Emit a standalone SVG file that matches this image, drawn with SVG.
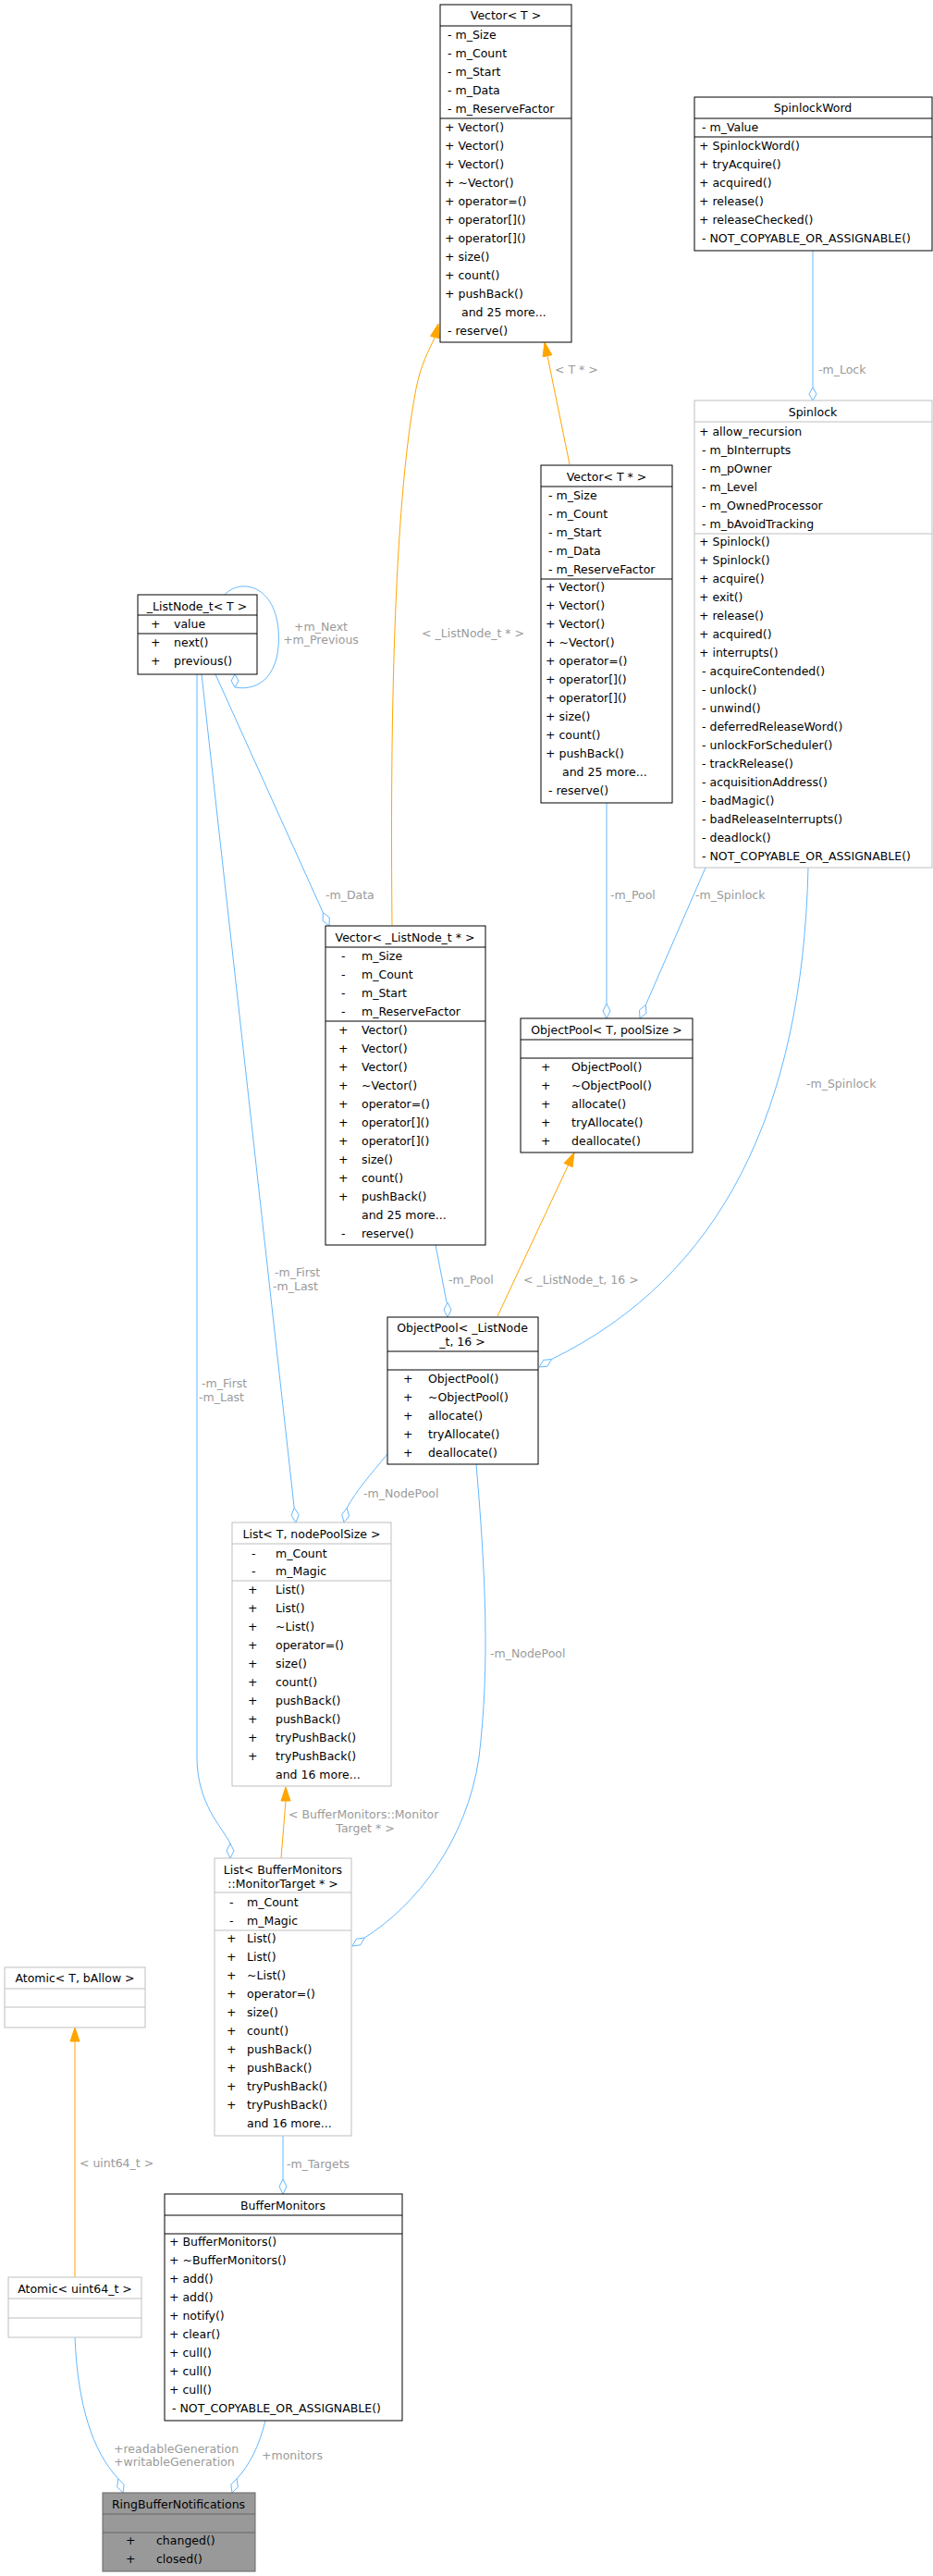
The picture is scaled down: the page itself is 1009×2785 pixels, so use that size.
<svg xmlns="http://www.w3.org/2000/svg" width="1009" height="2785" viewBox="0 0 1009 2785">
<style>
text{font-family:"DejaVu Sans","Liberation Sans",sans-serif;font-size:12.5px;fill:#000}
.t{text-anchor:middle}
.l{fill:#9a9a9a}
.lm{fill:#9a9a9a;text-anchor:middle}
.b{fill:#fff;stroke:#000;stroke-width:1}
.g{fill:#fff;stroke:#bfbfbf;stroke-width:1}
.s{stroke:#000;stroke-width:1}
.sg{stroke:#bfbfbf;stroke-width:1}
.e{fill:none;stroke:#63b8ff;stroke-width:1}
.d{fill:#fff;stroke:#63b8ff;stroke-width:1}
.o{fill:none;stroke:#ffa500;stroke-width:1}
.oh{fill:#ffa500;stroke:#ffa500}
</style>
<rect width="1009" height="2785" fill="#fff"/>
<g id="edges">
<path class="e" d="M879,271 L879,419"/><polygon class="d" points="879,433 883,426 879,419 875,426"/>
<path class="e" d="M243,643 C258,626 296,630 301,680 C305,730 280,748 254,743"/><polygon class="d" points="254,729 258,736 254,743 250,736"/>
<path class="e" d="M233,729 L349.3,986.5"/><polygon class="d" points="356,1001 349.1,995.4 349.3,986.5 356.3,992"/>
<path class="e" d="M218,729 L318.2,1630.1"/><polygon class="d" points="320,1646 315.1,1638.4 318.2,1630.1 323.1,1637.6"/>
<path class="e" d="M213,729 L213,1900 C213,1950 240,1975 249,1993"/><polygon class="d" points="249,2009 253,2001 249,1993 245,2001"/>
<path class="e" d="M656,868 L656,1085"/><polygon class="d" points="656,1101 660,1093 656,1085 652,1093"/>
<path class="e" d="M763,938 L698.4,1086.3"/><polygon class="d" points="692,1101 691.5,1092.1 698.4,1086.3 698.9,1095.3"/>
<path class="e" d="M874,938 C868,1200 780,1380 596.6,1469.5"/><polygon class="d" points="583,1478 587.7,1470.4 596.6,1469.5 591.9,1477.2"/>
<path class="e" d="M471,1346 L483,1408"/><polygon class="d" points="484,1424 488,1416 484,1408 480,1416"/>
<path class="e" d="M419,1572 C400,1595 385,1612 375.2,1630.3"/><polygon class="d" points="372,1646 369.7,1637.4 375.2,1630.3 377.5,1639"/>
<path class="e" d="M515,1583 C525,1700 530,1800 518,1900 C505,1990 450,2060 394.3,2095"/><polygon class="d" points="381,2104 385.4,2096.2 394.3,2095 389.8,2102.8"/>
<path class="e" d="M306,2309 L306,2356"/><polygon class="d" points="306,2372 310,2364 306,2356 302,2364"/>
<path class="e" d="M81,2527 C84,2600 100,2650 127.9,2679.8"/><polygon class="d" points="133,2695 126.6,2688.7 127.9,2679.8 134.2,2686.1"/>
<path class="e" d="M287,2617 C280,2645 270,2665 256.1,2679.8"/><polygon class="d" points="251,2695 249.8,2686.1 256.1,2679.8 257.4,2688.7"/>
<path class="o" d="M616,502 L592,384.7"/><polygon class="oh" points="589,370 596.9,383.7 587.1,385.7"/>
<path class="o" d="M424,1000 C422,800 425,550 450,420 C455,395 463,380 470.4,364.6"/><polygon class="oh" points="474,350 475.3,365.8 465.6,363.4"/>
<path class="o" d="M538,1423 L614.6,1259.6"/><polygon class="oh" points="621,1246 619.1,1261.7 610.1,1257.5"/>
<path class="o" d="M304,2009 L309,1947"/><polygon class="oh" points="309,1932 304,1947 314,1947"/>
<path class="o" d="M81,2462 L81,2207"/><polygon class="oh" points="81,2192 76,2207 86,2207"/>
<text class="l" x="885" y="404">-m_Lock</text>
<text class="l" x="600" y="404">&lt; T * &gt;</text>
<text class="l" x="456" y="689">&lt; _ListNode_t * &gt;</text>
<text class="lm" x="347" y="682">+m_Next</text>
<text class="lm" x="347" y="696">+m_Previous</text>
<text class="l" x="352" y="972">-m_Data</text>
<text class="l" x="660" y="972">-m_Pool</text>
<text class="l" x="752" y="972">-m_Spinlock</text>
<text class="l" x="872" y="1176">-m_Spinlock</text>
<text class="l" x="297" y="1380">-m_First</text>
<text class="l" x="295" y="1395">-m_Last</text>
<text class="l" x="485" y="1388">-m_Pool</text>
<text class="l" x="566" y="1388">&lt; _ListNode_t, 16 &gt;</text>
<text class="l" x="218" y="1500">-m_First</text>
<text class="l" x="215" y="1515">-m_Last</text>
<text class="l" x="393" y="1619">-m_NodePool</text>
<text class="l" x="530" y="1792">-m_NodePool</text>
<text class="l" x="312" y="1966">&lt; BufferMonitors::Monitor</text>
<text class="lm" x="395" y="1981">Target * &gt;</text>
<text class="l" x="86" y="2343">&lt; uint64_t &gt;</text>
<text class="l" x="310" y="2344">-m_Targets</text>
<text class="l" x="123" y="2652">+readableGeneration</text>
<text class="l" x="123" y="2666">+writableGeneration</text>
<text class="l" x="283" y="2659">+monitors</text>
</g>
<g id="VectorT">
<rect class="b" x="476" y="5" width="142" height="365"/>
<line class="s" x1="476" y1="28" x2="618" y2="28"/><line class="s" x1="476" y1="128" x2="618" y2="128"/>
<text class="t" x="547" y="21">Vector&lt; T &gt;</text>
<text x="484" y="42">-  m_Size</text><text x="484" y="62">-  m_Count</text><text x="484" y="82">-  m_Start</text><text x="484" y="102">-  m_Data</text><text x="484" y="122">-  m_ReserveFactor</text>
<text x="481" y="142">+ Vector()</text><text x="481" y="162">+ Vector()</text><text x="481" y="182">+ Vector()</text><text x="481" y="202">+ ~Vector()</text><text x="481" y="222">+ operator=()</text><text x="481" y="242">+ operator[]()</text><text x="481" y="262">+ operator[]()</text><text x="481" y="282">+ size()</text><text x="481" y="302">+ count()</text><text x="481" y="322">+ pushBack()</text><text x="499" y="342">and 25 more...</text><text x="484" y="362">-  reserve()</text>
</g>
<g id="SpinlockWord">
<rect class="b" x="751" y="105" width="257" height="166"/>
<line class="s" x1="751" y1="128" x2="1008" y2="128"/><line class="s" x1="751" y1="148" x2="1008" y2="148"/>
<text class="t" x="879" y="121">SpinlockWord</text>
<text x="759" y="142">-  m_Value</text>
<text x="756" y="162">+ SpinlockWord()</text><text x="756" y="182">+ tryAcquire()</text><text x="756" y="202">+ acquired()</text><text x="756" y="222">+ release()</text><text x="756" y="242">+ releaseChecked()</text><text x="759" y="262">-  NOT_COPYABLE_OR_ASSIGNABLE()</text>
</g>
<g id="Spinlock">
<rect class="g" x="751" y="433" width="257" height="505"/>
<line class="sg" x1="751" y1="456" x2="1008" y2="456"/><line class="sg" x1="751" y1="577" x2="1008" y2="577"/>
<text class="t" x="879" y="450">Spinlock</text>
<text x="756" y="471">+ allow_recursion</text><text x="759" y="491">-  m_bInterrupts</text><text x="759" y="511">-  m_pOwner</text><text x="759" y="531">-  m_Level</text><text x="759" y="551">-  m_OwnedProcessor</text><text x="759" y="571">-  m_bAvoidTracking</text>
<text x="756" y="590">+ Spinlock()</text><text x="756" y="610">+ Spinlock()</text><text x="756" y="630">+ acquire()</text><text x="756" y="650">+ exit()</text><text x="756" y="670">+ release()</text><text x="756" y="690">+ acquired()</text><text x="756" y="710">+ interrupts()</text>
<text x="759" y="730">-  acquireContended()</text><text x="759" y="750">-  unlock()</text><text x="759" y="770">-  unwind()</text><text x="759" y="790">-  deferredReleaseWord()</text><text x="759" y="810">-  unlockForScheduler()</text><text x="759" y="830">-  trackRelease()</text><text x="759" y="850">-  acquisitionAddress()</text><text x="759" y="870">-  badMagic()</text><text x="759" y="890">-  badReleaseInterrupts()</text><text x="759" y="910">-  deadlock()</text><text x="759" y="930">-  NOT_COPYABLE_OR_ASSIGNABLE()</text>
</g>
<g id="VectorTp">
<rect class="b" x="585" y="503" width="142" height="365"/>
<line class="s" x1="585" y1="526" x2="727" y2="526"/><line class="s" x1="585" y1="626" x2="727" y2="626"/>
<text class="t" x="656" y="520">Vector&lt; T * &gt;</text>
<text x="593" y="540">-  m_Size</text><text x="593" y="560">-  m_Count</text><text x="593" y="580">-  m_Start</text><text x="593" y="600">-  m_Data</text><text x="593" y="620">-  m_ReserveFactor</text>
<text x="590" y="639">+ Vector()</text><text x="590" y="659">+ Vector()</text><text x="590" y="679">+ Vector()</text><text x="590" y="699">+ ~Vector()</text><text x="590" y="719">+ operator=()</text><text x="590" y="739">+ operator[]()</text><text x="590" y="759">+ operator[]()</text><text x="590" y="779">+ size()</text><text x="590" y="799">+ count()</text><text x="590" y="819">+ pushBack()</text><text x="608" y="839">and 25 more...</text><text x="593" y="859">-  reserve()</text>
</g>
<g id="ListNode">
<rect class="b" x="149" y="643" width="129" height="86"/>
<line class="s" x1="149" y1="665" x2="278" y2="665"/><line class="s" x1="149" y1="685" x2="278" y2="685"/>
<text class="t" x="213" y="660">_ListNode_t&lt; T &gt;</text>
<text x="163" y="679">+</text><text x="188" y="679">value</text>
<text x="163" y="699">+</text><text x="188" y="699">next()</text>
<text x="163" y="719">+</text><text x="188" y="719">previous()</text>
</g>
<g id="VectorLN">
<rect class="b" x="352" y="1001" width="173" height="345"/>
<line class="s" x1="352" y1="1024" x2="525" y2="1024"/><line class="s" x1="352" y1="1104" x2="525" y2="1104"/>
<text class="t" x="438" y="1018">Vector&lt; _ListNode_t * &gt;</text>
<text x="369" y="1038">-</text><text x="391" y="1038">m_Size</text><text x="369" y="1058">-</text><text x="391" y="1058">m_Count</text><text x="369" y="1078">-</text><text x="391" y="1078">m_Start</text><text x="369" y="1098">-</text><text x="391" y="1098">m_ReserveFactor</text>
<text x="366" y="1118">+</text><text x="391" y="1118">Vector()</text><text x="366" y="1138">+</text><text x="391" y="1138">Vector()</text><text x="366" y="1158">+</text><text x="391" y="1158">Vector()</text><text x="366" y="1178">+</text><text x="391" y="1178">~Vector()</text><text x="366" y="1198">+</text><text x="391" y="1198">operator=()</text><text x="366" y="1218">+</text><text x="391" y="1218">operator[]()</text><text x="366" y="1238">+</text><text x="391" y="1238">operator[]()</text><text x="366" y="1258">+</text><text x="391" y="1258">size()</text><text x="366" y="1278">+</text><text x="391" y="1278">count()</text><text x="366" y="1298">+</text><text x="391" y="1298">pushBack()</text><text x="391" y="1318">and 25 more...</text><text x="369" y="1338">-</text><text x="391" y="1338">reserve()</text>
</g>
<g id="ObjectPoolT">
<rect class="b" x="563" y="1101" width="186" height="145"/>
<line class="s" x1="563" y1="1124" x2="749" y2="1124"/><line class="s" x1="563" y1="1144" x2="749" y2="1144"/>
<text class="t" x="656" y="1118">ObjectPool&lt; T, poolSize &gt;</text>
<text x="585" y="1158">+</text><text x="618" y="1158">ObjectPool()</text><text x="585" y="1178">+</text><text x="618" y="1178">~ObjectPool()</text><text x="585" y="1198">+</text><text x="618" y="1198">allocate()</text><text x="585" y="1218">+</text><text x="618" y="1218">tryAllocate()</text><text x="585" y="1238">+</text><text x="618" y="1238">deallocate()</text>
</g>
<g id="ObjectPool16">
<rect class="b" x="419" y="1424" width="163" height="159"/>
<line class="s" x1="419" y1="1461" x2="582" y2="1461"/><line class="s" x1="419" y1="1481" x2="582" y2="1481"/>
<text class="t" x="500" y="1440">ObjectPool&lt; _ListNode</text><text class="t" x="500" y="1455">_t, 16 &gt;</text>
<text x="436" y="1495">+</text><text x="463" y="1495">ObjectPool()</text><text x="436" y="1515">+</text><text x="463" y="1515">~ObjectPool()</text><text x="436" y="1535">+</text><text x="463" y="1535">allocate()</text><text x="436" y="1555">+</text><text x="463" y="1555">tryAllocate()</text><text x="436" y="1575">+</text><text x="463" y="1575">deallocate()</text>
</g>
<g id="ListT">
<rect class="g" x="251" y="1646" width="172" height="285"/>
<line class="sg" x1="251" y1="1669" x2="423" y2="1669"/><line class="sg" x1="251" y1="1709" x2="423" y2="1709"/>
<text class="t" x="337" y="1663">List&lt; T, nodePoolSize &gt;</text>
<text x="272" y="1684">-</text><text x="298" y="1684">m_Count</text><text x="272" y="1703">-</text><text x="298" y="1703">m_Magic</text>
<text x="268" y="1723">+</text><text x="298" y="1723">List()</text><text x="268" y="1743">+</text><text x="298" y="1743">List()</text><text x="268" y="1763">+</text><text x="298" y="1763">~List()</text><text x="268" y="1783">+</text><text x="298" y="1783">operator=()</text><text x="268" y="1803">+</text><text x="298" y="1803">size()</text><text x="268" y="1823">+</text><text x="298" y="1823">count()</text><text x="268" y="1843">+</text><text x="298" y="1843">pushBack()</text><text x="268" y="1863">+</text><text x="298" y="1863">pushBack()</text><text x="268" y="1883">+</text><text x="298" y="1883">tryPushBack()</text><text x="268" y="1903">+</text><text x="298" y="1903">tryPushBack()</text><text x="298" y="1923">and 16 more...</text>
</g>
<g id="ListBM">
<rect class="g" x="232" y="2009" width="148" height="300"/>
<line class="sg" x1="232" y1="2046" x2="380" y2="2046"/><line class="sg" x1="232" y1="2087" x2="380" y2="2087"/>
<text class="t" x="306" y="2026">List&lt; BufferMonitors</text><text class="t" x="306" y="2041">::MonitorTarget * &gt;</text>
<text x="248" y="2061">-</text><text x="267" y="2061">m_Count</text><text x="248" y="2081">-</text><text x="267" y="2081">m_Magic</text>
<text x="245" y="2100">+</text><text x="267" y="2100">List()</text><text x="245" y="2120">+</text><text x="267" y="2120">List()</text><text x="245" y="2140">+</text><text x="267" y="2140">~List()</text><text x="245" y="2160">+</text><text x="267" y="2160">operator=()</text><text x="245" y="2180">+</text><text x="267" y="2180">size()</text><text x="245" y="2200">+</text><text x="267" y="2200">count()</text><text x="245" y="2220">+</text><text x="267" y="2220">pushBack()</text><text x="245" y="2240">+</text><text x="267" y="2240">pushBack()</text><text x="245" y="2260">+</text><text x="267" y="2260">tryPushBack()</text><text x="245" y="2280">+</text><text x="267" y="2280">tryPushBack()</text><text x="267" y="2300">and 16 more...</text>
</g>
<g id="AtomicT">
<rect class="g" x="5" y="2127" width="152" height="65"/>
<line class="sg" x1="5" y1="2150" x2="157" y2="2150"/><line class="sg" x1="5" y1="2170" x2="157" y2="2170"/>
<text class="t" x="81" y="2143">Atomic&lt; T, bAllow &gt;</text>
</g>
<g id="AtomicU">
<rect class="g" x="9" y="2462" width="144" height="65"/>
<line class="sg" x1="9" y1="2485" x2="153" y2="2485"/><line class="sg" x1="9" y1="2506" x2="153" y2="2506"/>
<text class="t" x="81" y="2479">Atomic&lt; uint64_t &gt;</text>
</g>
<g id="BufferMonitors">
<rect class="b" x="178" y="2372" width="257" height="245"/>
<line class="s" x1="178" y1="2395" x2="435" y2="2395"/><line class="s" x1="178" y1="2415" x2="435" y2="2415"/>
<text class="t" x="306" y="2389">BufferMonitors</text>
<text x="183" y="2428">+ BufferMonitors()</text><text x="183" y="2448">+ ~BufferMonitors()</text><text x="183" y="2468">+ add()</text><text x="183" y="2488">+ add()</text><text x="183" y="2508">+ notify()</text><text x="183" y="2528">+ clear()</text><text x="183" y="2548">+ cull()</text><text x="183" y="2568">+ cull()</text><text x="183" y="2588">+ cull()</text><text x="186" y="2608">-  NOT_COPYABLE_OR_ASSIGNABLE()</text>
</g>
<g id="RingBufferNotifications">
<rect x="111" y="2695" width="165" height="85" fill="#999" stroke="#666"/>
<line x1="111" y1="2718" x2="276" y2="2718" stroke="#666"/><line x1="111" y1="2738" x2="276" y2="2738" stroke="#666"/>
<text class="t" x="193" y="2712">RingBufferNotifications</text>
<text x="136" y="2751">+</text><text x="169" y="2751">changed()</text>
<text x="136" y="2771">+</text><text x="169" y="2771">closed()</text>
</g>
</svg>
